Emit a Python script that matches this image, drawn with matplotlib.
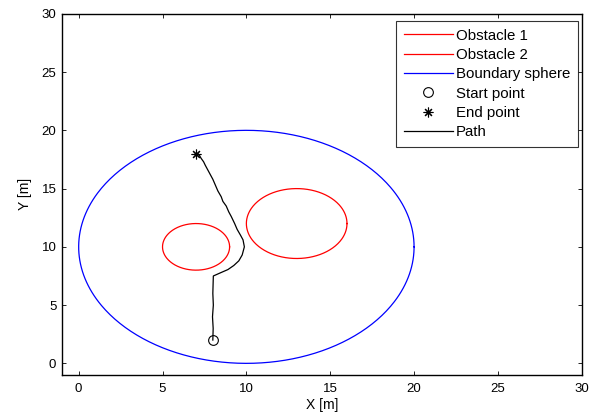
import numpy as np
import matplotlib
matplotlib.use("Agg")
import matplotlib.pyplot as plt

plt.rcParams['font.family'] = ['Liberation Sans', 'DejaVu Sans']

# Circular regions: (center x, center y, radius)
obstacle1 = (13.0, 12.0, 3.0)
obstacle2 = (7.0, 10.0, 2.0)
boundary = (10.0, 10.0, 10.0)

start_point = (8.0, 2.0)
end_point = (7.0, 18.0)

# Planned path waypoints
path_x = [8.0, 8.02, 7.98, 8.03, 8.0, 8.03, 8.5, 8.9, 9.25, 9.55, 9.75, 9.88,
          9.8, 9.65, 9.45, 9.3, 9.1, 8.95, 8.8, 8.6, 8.5, 8.3, 8.15, 8.0,
          7.85, 7.7, 7.55, 7.45, 7.3, 7.2, 7.1]
path_y = [2.0, 3.0, 4.0, 5.0, 6.0, 7.5, 7.8, 8.05, 8.4, 8.8, 9.3, 10.0,
          10.6, 11.0, 11.5, 12.0, 12.6, 13.0, 13.5, 13.9, 14.3, 14.8, 15.3, 15.8,
          16.2, 16.6, 17.0, 17.3, 17.6, 17.85, 18.0]

fig = plt.figure(figsize=(6.01, 4.19), dpi=100)
ax = fig.add_axes([0.103, 0.105, 0.865, 0.862])

t = np.linspace(0, 2 * np.pi, 400)

def circle(c):
    cx, cy, r = c
    return cx + r * np.cos(t), cy + r * np.sin(t)

x, y = circle(obstacle1)
ax.plot(x, y, color='#ff0000', lw=0.9, label='Obstacle 1')
x, y = circle(obstacle2)
ax.plot(x, y, color='#ff0000', lw=0.9, label='Obstacle 2')
x, y = circle(boundary)
ax.plot(x, y, color='#0000ff', lw=0.9, label='Boundary sphere')
ax.plot(*start_point, 'o', mfc='none', mec='black', ms=7, mew=0.8,
        ls='none', label='Start point')
ax.plot(*end_point, marker=(8, 2, 0), color='black', ms=7, mew=0.8,
        ls='none', label='End point')
ax.plot(path_x, path_y, color='black', lw=0.9, label='Path')

ax.set_xlim(-1, 30)
ax.set_ylim(-1, 30)
ax.set_xticks(np.arange(0, 31, 5))
ax.set_yticks(np.arange(0, 31, 5))
ax.tick_params(direction='in', top=True, right=True, length=3, width=0.6,
               labelsize=9.5)
ax.tick_params(axis='x', pad=6)
ax.tick_params(axis='y', pad=4)
for s in ax.spines.values():
    s.set_linewidth(1.0)
ax.set_xlabel('X [m]', fontsize=10, labelpad=2)
ax.set_ylabel('Y [m]', fontsize=10, labelpad=7)

leg = ax.legend(loc='upper right', bbox_to_anchor=(578 / 601, 1 - 21 / 419),
                bbox_transform=fig.transFigure, borderaxespad=0,
                fontsize=10.8, frameon=True, fancybox=False,
                edgecolor='black', handlelength=3.3, handletextpad=0.2,
                labelspacing=0.36, borderpad=0.5)
leg.get_frame().set_linewidth(0.8)

fig.savefig('out.png', dpi=100)
